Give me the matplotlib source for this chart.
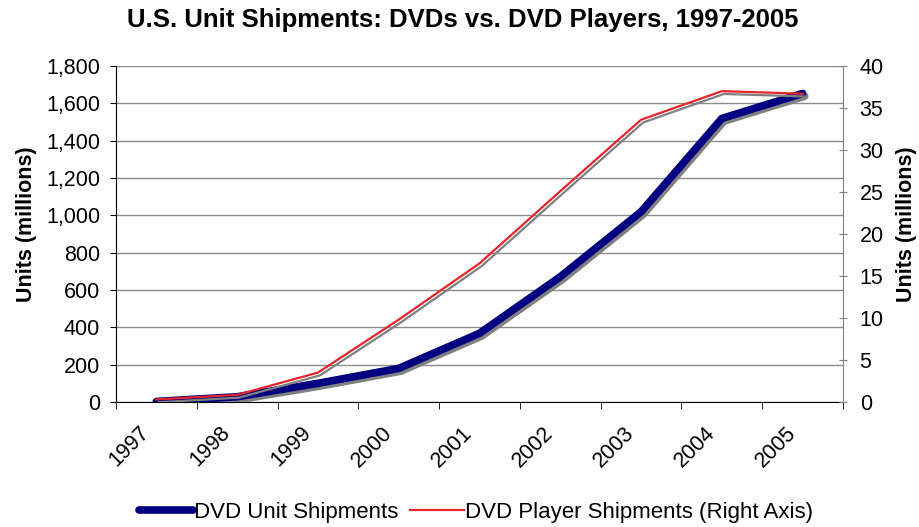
import matplotlib.pyplot as plt
import matplotlib.patheffects as pe
from matplotlib.lines import Line2D
from matplotlib.transforms import ScaledTranslation
import numpy as np

plt.rcParams['font.family'] = ['Liberation Sans', 'DejaVu Sans']

# data
years = ['1997', '1998', '1999', '2000', '2001', '2002', '2003', '2004', '2005']
dvd_units = [3, 28, 100, 180, 368, 671, 1019, 1519, 1653]          # millions, left axis
dvd_players = [0.3, 0.85, 3.5, 9.8, 16.5, 25.1, 33.6, 37.0, 36.7]  # millions, right axis

x = np.arange(len(years))

fig = plt.figure(figsize=(9.19, 5.27), dpi=100)
ax = fig.add_axes([0.1262, 0.2372, 0.7911, 0.6376])
ax2 = ax.twinx()

shadow = [pe.SimpleLineShadow(offset=(1.5, -2), shadow_color='#808080', alpha=1.0), pe.Normal()]

ax.plot(x, dvd_units, color='#000080', lw=5.5, solid_capstyle='round',
        path_effects=shadow, zorder=3)
ax2.plot(x, dvd_players, color='#e8242b', lw=1.6, path_effects=shadow, zorder=3)

ax.set_xlim(-0.5, len(years) - 0.5)
ax.set_ylim(0, 1800)
ax2.set_ylim(0, 40)
ax.set_yticks(np.arange(0, 1801, 200))
ax.set_yticklabels([f'{v:,}' for v in range(0, 1801, 200)])
ax2.set_yticks(np.arange(0, 41, 5))

ax.set_xticks(x)
ax.set_xticklabels(years, rotation=45, ha='right', va='center', rotation_mode='anchor')
ax.set_xticks(np.arange(-0.5, len(years)), minor=True)
ax.tick_params(axis='x', which='major', length=0, pad=20, labelsize=15.5)
ax.tick_params(axis='x', which='minor', length=5, direction='out', color='black')
ax.tick_params(axis='y', length=4.5, direction='out', labelsize=15.5, pad=7)
ax2.tick_params(axis='y', length=6, direction='inout', labelsize=15.5, color='#808080', pad=9)

# nudge rotated year labels left so their ends sit just left of each category
for lab in ax.get_xticklabels():
    lab.set_transform(lab.get_transform() + ScaledTranslation(-0.1, 0, fig.dpi_scale_trans))

ax.grid(axis='y', color='#8c8c8c', lw=1)
ax.set_axisbelow(True)

ax.spines['top'].set_visible(False)
ax.spines['right'].set_visible(False)
for s in ['top', 'left', 'bottom']:
    ax2.spines[s].set_visible(False)
ax2.spines['right'].set_color('#808080')

ax.set_ylabel('Units (millions)', fontsize=15.5, fontweight='bold')
ax2.set_ylabel('Units (millions)', fontsize=15.5, fontweight='bold')
ax.yaxis.set_label_coords(-0.108, 0.53)
ax2.yaxis.set_label_coords(1.073, 0.53)

fig.text(0.504, 0.962, 'U.S. Unit Shipments: DVDs vs. DVD Players, 1997-2005',
         fontsize=18.5, fontweight='bold', ha='center', va='center')

handles = [Line2D([], [], color='#000080', lw=5.5, solid_capstyle='round'),
           Line2D([], [], color='#e8242b', lw=1.6)]
fig.legend(handles, ['DVD Unit Shipments', 'DVD Player Shipments (Right Axis)'],
           loc='center', bbox_to_anchor=(0.518, 0.028), ncol=2, frameon=False,
           fontsize=16, handlelength=2.4, columnspacing=0.55, handletextpad=0.05)

fig.savefig('out.png', dpi=100)
